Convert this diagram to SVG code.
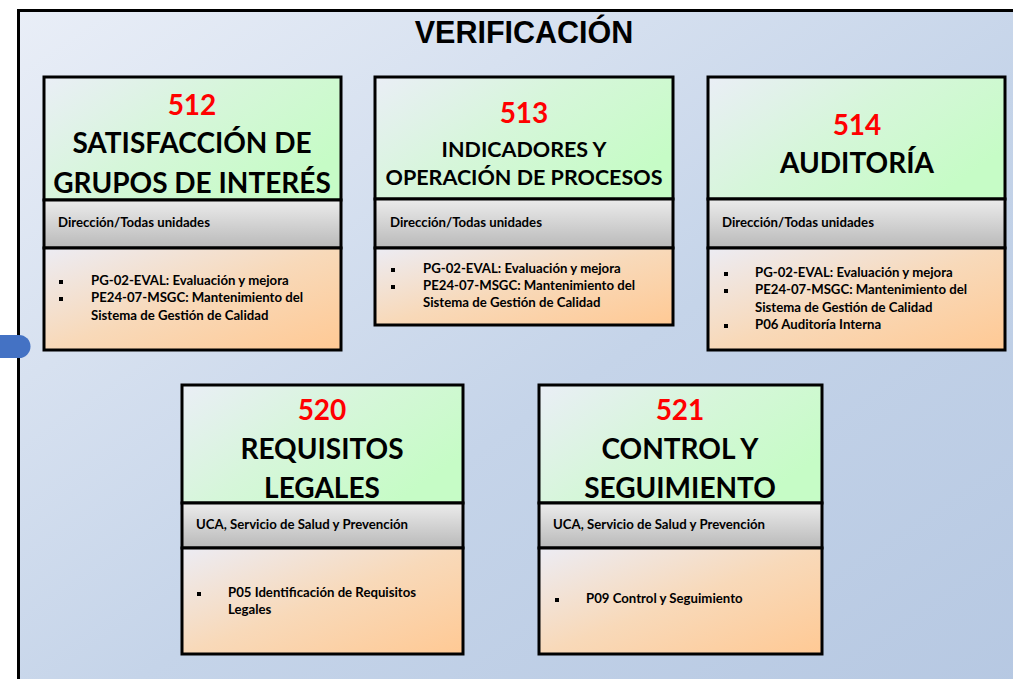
<svg xmlns="http://www.w3.org/2000/svg" width="1013" height="679" viewBox="0 0 1013 679">
<defs>
<linearGradient id="bg" x1="0" y1="0" x2="1" y2="1">
<stop offset="0" stop-color="#e9eef7"/>
<stop offset="0.55" stop-color="#c5d4e9"/>
<stop offset="1" stop-color="#b6c8e2"/>
</linearGradient>
<linearGradient id="green" x1="0" y1="0" x2="1" y2="0.6">
<stop offset="0" stop-color="#eaeef6"/>
<stop offset="0.5" stop-color="#d6f6da"/>
<stop offset="1" stop-color="#c6fcc6"/>
</linearGradient>
<linearGradient id="gray" x1="0" y1="0" x2="0" y2="1">
<stop offset="0" stop-color="#ececec"/>
<stop offset="1" stop-color="#b9b9b9"/>
</linearGradient>
<linearGradient id="orange" x1="0" y1="0" x2="1" y2="1">
<stop offset="0" stop-color="#ececf4"/>
<stop offset="0.5" stop-color="#f8d9b9"/>
<stop offset="1" stop-color="#ffc994"/>
</linearGradient>
</defs>
<style>
.sec{stroke:#000;stroke-width:3}
.g{fill:url(#green)}
.y{fill:url(#gray)}
.o{fill:url(#orange)}
.num{font-family:Lato,"Open Sans",sans-serif;font-weight:bold;font-size:28px;fill:#ff0000;text-anchor:middle}
.tt{font-family:Lato,"Open Sans",sans-serif;font-weight:bold;font-size:28px;fill:#000;text-anchor:middle}
.tm{font-family:Lato,"Open Sans",sans-serif;font-weight:bold;font-size:21.5px;fill:#000;text-anchor:middle}
.sm{font-family:Lato,"Open Sans",sans-serif;font-weight:bold;font-size:13.2px;fill:#000}
.bu{fill:#000}
</style>
<rect x="0" y="0" width="1013" height="679" fill="#ffffff"/>
<rect x="18.5" y="10.5" width="1010" height="680" fill="url(#bg)" stroke="#000" stroke-width="3"/>
<text x="524" y="43" font-family="Liberation Sans,Arial,sans-serif" font-weight="bold" font-size="30.5" text-anchor="middle">VERIFICACIÓN</text>
<path id="tab" d="M0 335 H19 A11.5 11.5 0 0 1 19 358 H0 Z" fill="#4472c4"/>
<g id="connectors"></g>

<g id="n512">
<rect class="sec g" x="44" y="77" width="297" height="123"/>
<rect class="sec y" x="44" y="200" width="297" height="48"/>
<rect class="sec o" x="44" y="248" width="297" height="102"/>
<text class="num" x="192" y="115">512</text>
<text class="tt" x="192" y="153">SATISFACCIÓN DE</text>
<text class="tt" x="192" y="193">GRUPOS DE INTERÉS</text>
<text class="sm" x="58" y="227">Dirección/Todas unidades</text>
<rect class="bu" x="59" y="280" width="4" height="4"/>
<rect class="bu" x="59" y="297" width="4" height="4"/>
<text class="sm" x="91" y="285">PG-02-EVAL: Evaluación y mejora</text>
<text class="sm" x="91" y="302">PE24-07-MSGC: Mantenimiento del</text>
<text class="sm" x="91" y="320">Sistema de Gestión de Calidad</text>
</g>

<g id="n513">
<rect class="sec g" x="375" y="77" width="298" height="122"/>
<rect class="sec y" x="375" y="199" width="298" height="49"/>
<rect class="sec o" x="375" y="248" width="298" height="77"/>
<text class="num" x="524" y="123">513</text>
<text class="tm" x="524" y="157">INDICADORES Y</text>
<text class="tm" x="524" y="185">OPERACIÓN DE PROCESOS</text>
<text class="sm" x="390" y="227">Dirección/Todas unidades</text>
<rect class="bu" x="391" y="268" width="4" height="4"/>
<rect class="bu" x="391" y="285" width="4" height="4"/>
<text class="sm" x="423" y="273">PG-02-EVAL: Evaluación y mejora</text>
<text class="sm" x="423" y="290">PE24-07-MSGC: Mantenimiento del</text>
<text class="sm" x="423" y="307">Sistema de Gestión de Calidad</text>
</g>

<g id="n514">
<rect class="sec g" x="708" y="77" width="297" height="122"/>
<rect class="sec y" x="708" y="199" width="297" height="49"/>
<rect class="sec o" x="708" y="248" width="297" height="102"/>
<text class="num" x="857" y="135">514</text>
<text class="tt" x="857" y="173">AUDITORÍA</text>
<text class="sm" x="722" y="227">Dirección/Todas unidades</text>
<rect class="bu" x="724" y="272" width="4" height="4"/>
<rect class="bu" x="724" y="289" width="4" height="4"/>
<rect class="bu" x="724" y="324" width="4" height="4"/>
<text class="sm" x="755" y="277">PG-02-EVAL: Evaluación y mejora</text>
<text class="sm" x="755" y="294">PE24-07-MSGC: Mantenimiento del</text>
<text class="sm" x="755" y="312">Sistema de Gestión de Calidad</text>
<text class="sm" x="755" y="329">P06 Auditoría Interna</text>
</g>

<g id="n520">
<rect class="sec g" x="182" y="385" width="281" height="118"/>
<rect class="sec y" x="182" y="503" width="281" height="45"/>
<rect class="sec o" x="182" y="548" width="281" height="106"/>
<text class="num" x="322" y="420">520</text>
<text class="tt" x="322" y="459">REQUISITOS</text>
<text class="tt" x="322" y="498">LEGALES</text>
<text class="sm" x="196" y="529">UCA, Servicio de Salud y Prevención</text>
<rect class="bu" x="197" y="592" width="4" height="4"/>
<text class="sm" x="228" y="597">P05 Identificación de Requisitos</text>
<text class="sm" x="228" y="614">Legales</text>
</g>

<g id="n521">
<rect class="sec g" x="539" y="385" width="283" height="118"/>
<rect class="sec y" x="539" y="503" width="283" height="45"/>
<rect class="sec o" x="539" y="548" width="283" height="106"/>
<text class="num" x="680" y="420">521</text>
<text class="tt" x="680" y="459">CONTROL Y</text>
<text class="tt" x="680" y="498">SEGUIMIENTO</text>
<text class="sm" x="553" y="529">UCA, Servicio de Salud y Prevención</text>
<rect class="bu" x="555" y="598" width="4" height="4"/>
<text class="sm" x="586" y="603">P09 Control y Seguimiento</text>
</g>
</svg>
